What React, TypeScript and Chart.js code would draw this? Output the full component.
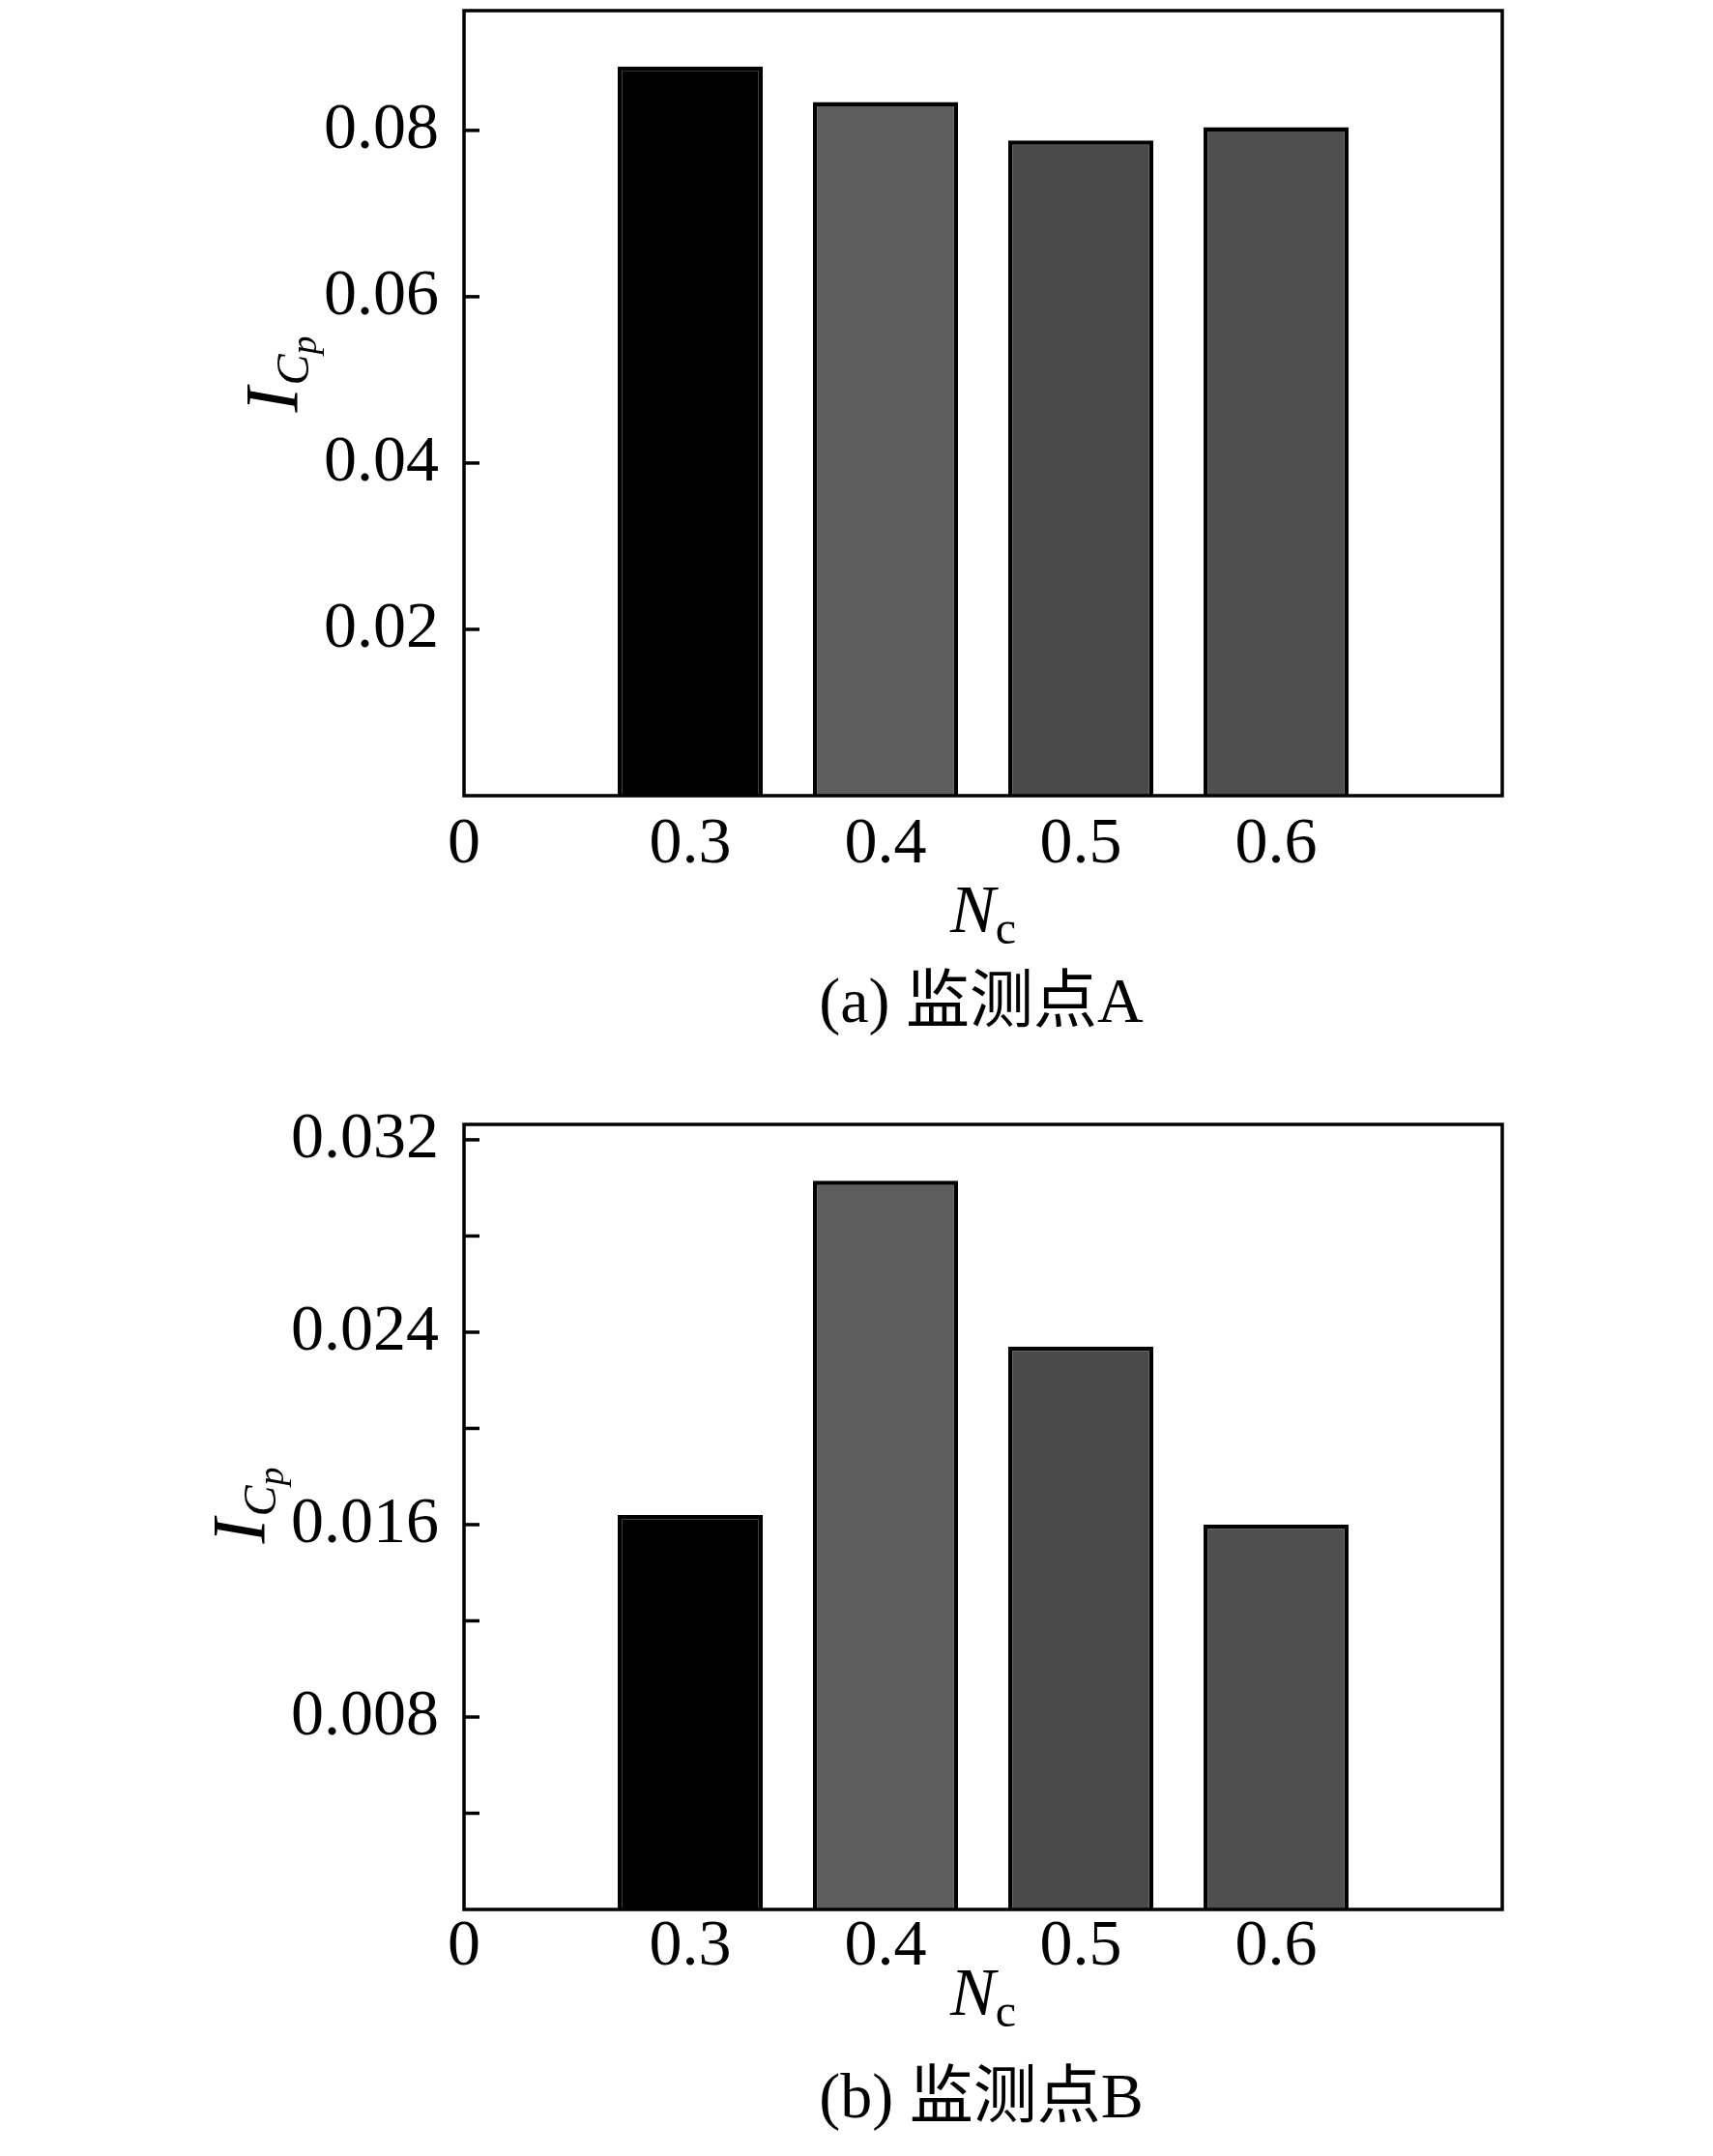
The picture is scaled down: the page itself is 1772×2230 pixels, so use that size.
import React, { useEffect, useRef } from 'react';
import { Chart, registerables } from 'chart.js';

Chart.register(...registerables);

// data
const categories = ['0.3', '0.4', '0.5', '0.6'];
const xOriginLabel = '0';
const valuesA = [0.0877, 0.0834, 0.0788, 0.0804];
const valuesB = [0.0164, 0.0303, 0.0234, 0.016];
const yTicksA = [0.02, 0.04, 0.06, 0.08];
const yTickLabelsA = ['0.02', '0.04', '0.06', '0.08'];
const yTicksB = [0.008, 0.016, 0.024, 0.032];
const yTickLabelsB = ['0.008', '0.016', '0.024', '0.032'];
const yMinorTicksB = [0.004, 0.012, 0.02, 0.028];
const barColors = ['#000000', '#5d5d5d', '#4a4a4a', '#4f4f4f'];
const captionA = '(a) 监测点A';
const captionB = '(b) 监测点B';

const SERIF = '"Liberation Serif", "Times New Roman", "Noto Sans CJK SC", serif';
const WIDTH = 1772;
const PLOT_LEFT = 480;
const PLOT_RIGHT = 1554;
// x positions are bar indices 1..4; the frame runs a bit past them on both sides
const X_MIN = -0.158;
const X_MAX = 5.158;

interface PanelProps {
    height: number;
    values: number[];
    yMax: number;
    yTicks: number[];
    yTickLabels: string[];
    yMinorTicks: number[];
    plotTop: number;
    plotBottom: number;
    xLabelPad: number;
    xTitleY: number;
    yTitleY: number;
    captionY: number;
    caption: string;
}

const BarPanel: React.FC<PanelProps> = (props) => {
    const canvasRef = useRef<HTMLCanvasElement>(null);

    useEffect(() => {
        const canvas = canvasRef.current;
        if (!canvas) return;
        const { height, values, yMax, yTicks, yTickLabels, yMinorTicks } = props;
        const xTickLabels = [xOriginLabel, ...categories];

        const decor = {
            id: 'decor',
            afterDraw: (chart: Chart) => {
                const ctx = chart.ctx;
                const a = chart.chartArea;
                const yScale = chart.scales.y;
                ctx.save();
                ctx.strokeStyle = '#000';
                ctx.fillStyle = '#000';
                ctx.lineWidth = 3.5;
                ctx.strokeRect(a.left, a.top, a.right - a.left, a.bottom - a.top);

                // inward tick marks
                ctx.lineWidth = 3.5;
                [...yTicks, ...yMinorTicks].forEach((v) => {
                    const y = yScale.getPixelForValue(v);
                    ctx.beginPath();
                    ctx.moveTo(a.left, y);
                    ctx.lineTo(a.left + 16, y);
                    ctx.stroke();
                });

                // y title I_{C_p}
                ctx.font = `68px ${SERIF}`;
                const widest = Math.max(...yTickLabels.map((t) => ctx.measureText(t).width));
                const baseX = a.left - 26 - widest - 28;
                ctx.translate(baseX, props.yTitleY);
                ctx.rotate(-Math.PI / 2);
                ctx.textBaseline = 'alphabetic';
                ctx.font = `italic 78px ${SERIF}`;
                const wI = ctx.measureText('I').width;
                ctx.font = `italic 48px ${SERIF}`;
                const wC = ctx.measureText('C').width;
                ctx.font = `italic 38px ${SERIF}`;
                const wP = ctx.measureText('p').width;
                let x = -(wI + wC + wP) / 2;
                ctx.font = `italic 78px ${SERIF}`;
                ctx.fillText('I', x, 0);
                x += wI + 2;
                ctx.font = `italic 48px ${SERIF}`;
                ctx.fillText('C', x, 12);
                x += wC;
                ctx.font = `italic 38px ${SERIF}`;
                ctx.fillText('p', x, 20);
                ctx.setTransform(1, 0, 0, 1, 0, 0);

                // x title N_c
                const cx = (a.left + a.right) / 2;
                ctx.font = `italic 70px ${SERIF}`;
                const wN = ctx.measureText('N').width;
                ctx.font = `48px ${SERIF}`;
                const wc = ctx.measureText('c').width;
                const x0 = cx - (wN + wc) / 2;
                ctx.font = `italic 70px ${SERIF}`;
                ctx.fillText('N', x0, props.xTitleY);
                ctx.font = `48px ${SERIF}`;
                ctx.fillText('c', x0 + wN, props.xTitleY + 12);

                // caption
                ctx.textAlign = 'center';
                ctx.font = `66px ${SERIF}`;
                ctx.fillText(props.caption, cx - 2, props.captionY);
                ctx.restore();
            },
        };

        const tickFont = { family: SERIF, size: 68, lineHeight: 1 };

        const chart = new Chart(canvas, {
            type: 'bar',
            data: {
                datasets: [
                    {
                        data: values.map((v, i) => ({ x: i + 1, y: v })),
                        backgroundColor: barColors,
                        borderColor: '#000',
                        borderWidth: 4.5,
                        barPercentage: 0.743,
                        categoryPercentage: 1,
                    },
                ],
            },
            options: {
                animation: false,
                responsive: false,
                devicePixelRatio: 1,
                layout: { padding: { left: 0, right: WIDTH - PLOT_RIGHT, top: props.plotTop, bottom: 0 } },
                plugins: {
                    legend: { display: false },
                    tooltip: { enabled: false },
                },
                scales: {
                    x: {
                        type: 'linear',
                        min: X_MIN,
                        max: X_MAX,
                        offset: false,
                        grid: { display: false, drawTicks: false, offset: false },
                        border: { display: false },
                        afterBuildTicks: (s: any) => {
                            s.ticks = [X_MIN, 1, 2, 3, 4].map((value) => ({ value }));
                        },
                        afterFit: (s: any) => {
                            s.height = height - props.plotBottom;
                            s.paddingLeft = 0;
                            s.paddingRight = 0;
                        },
                        ticks: {
                            autoSkip: false,
                            maxRotation: 0,
                            padding: props.xLabelPad,
                            color: '#000',
                            font: tickFont,
                            callback: (_v: any, i: number) => xTickLabels[i],
                        },
                    },
                    y: {
                        type: 'linear',
                        min: 0,
                        max: yMax,
                        grid: { display: false, drawTicks: false },
                        border: { display: false },
                        afterBuildTicks: (s: any) => {
                            s.ticks = yTicks.map((value) => ({ value }));
                        },
                        afterFit: (s: any) => {
                            s.width = PLOT_LEFT;
                            s.paddingTop = 0;
                            s.paddingBottom = 0;
                        },
                        ticks: {
                            padding: 26,
                            color: '#000',
                            font: tickFont,
                            callback: (_v: any, i: number) => yTickLabels[i],
                        },
                    },
                },
            },
            plugins: [decor],
        });

        return () => {
            chart.destroy();
        };
    }, []);

    return <canvas ref={canvasRef} width={WIDTH} height={props.height} style={{ display: 'block' }} />;
};

const App: React.FC = () => {
    return (
        <div style={{ position: 'absolute', left: 0, top: 0, width: WIDTH, height: 2230, background: '#fff' }}>
            <BarPanel
                height={1100}
                values={valuesA}
                yMax={0.0944}
                yTicks={yTicksA}
                yTickLabels={yTickLabelsA}
                yMinorTicks={[]}
                plotTop={11}
                plotBottom={823}
                xLabelPad={17}
                xTitleY={964}
                yTitleY={388}
                captionY={1057}
                caption={captionA}
            />
            <BarPanel
                height={1130}
                values={valuesB}
                yMax={0.03264}
                yTicks={yTicksB}
                yTickLabels={yTickLabelsB}
                yMinorTicks={yMinorTicksB}
                plotTop={63}
                plotBottom={875}
                xLabelPad={5}
                xTitleY={984}
                yTitleY={458}
                captionY={1090}
                caption={captionB}
            />
        </div>
    );
};

export default App;
